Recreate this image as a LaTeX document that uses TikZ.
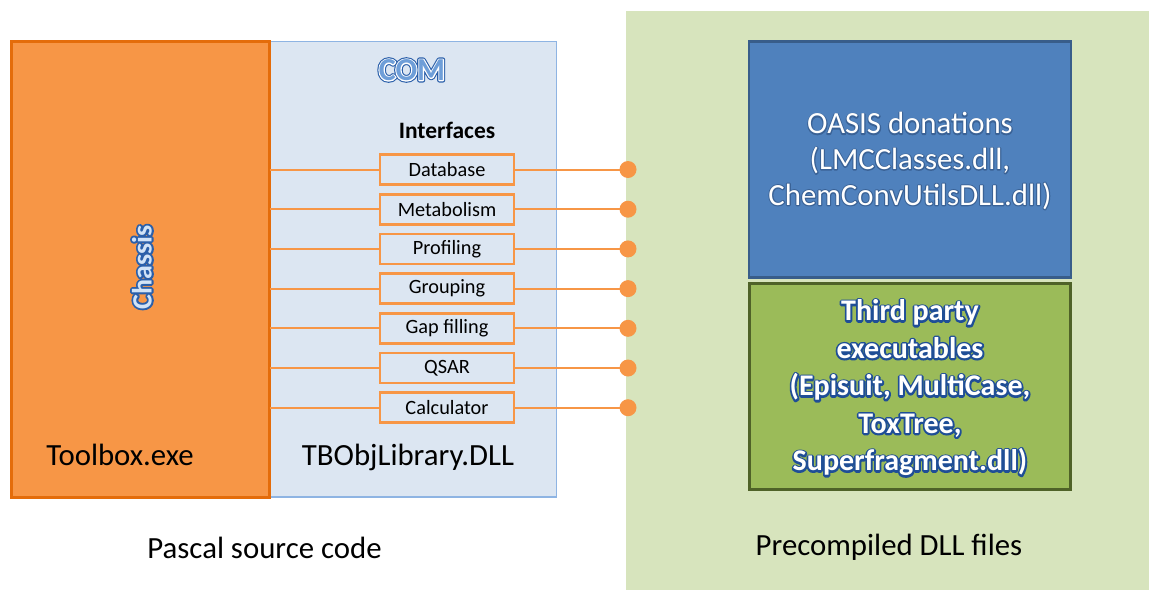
\documentclass[tikz,border=0pt]{standalone}
\usepackage{fontspec}
\setmainfont{Carlito}
\definecolor{orfill}{HTML}{F79646}
\definecolor{ordark}{HTML}{E46C0A}
\definecolor{comfill}{HTML}{DCE6F2}
\definecolor{comborder}{HTML}{8EB4E3}
\definecolor{bggreen}{HTML}{D7E4BD}
\definecolor{bluefill}{HTML}{4F81BD}
\definecolor{blueborder}{HTML}{385D8A}
\definecolor{greenfill}{HTML}{9BBB59}
\definecolor{greenborder}{HTML}{4F6228}
\definecolor{artlight}{HTML}{D2E3F6}
\definecolor{artmid}{HTML}{6E9ED8}
% word-art text: an outline pass (stroked glyphs) under a filled pass
% #1 name, #2 position, #3 node style, #4 stroke colour (r g b), #5 stroke width, #6 text
\newcommand\strokepass[3]{\special{pdf:literal direct #1 RG 1 Tr #2 w 1 j}#3\special{pdf:literal direct 0 Tr}}
\newcommand\artnode[6]{%
  \node[#3] at #2 {\strokepass{#4}{#5}{#6}};
  \node[#3] (#1) at #2 {#6};
}
\tikzset{
  lbl/.style={font=\fontsize{30.8}{36}\selectfont, text=black},
  ifbox/.style={draw=orfill, line width=2.6pt, fill=comfill, minimum width=134, minimum height=30,
    font=\fontsize{20.3}{23}\selectfont, text=black},
  conn/.style={draw=orfill, line width=2pt},
  dot/.style={circle, fill=orfill, minimum size=17},
}
\begin{document}
\begin{tikzpicture}[x=1pt,y=-1pt, every node/.style={inner sep=0pt, outer sep=0pt}]
\useasboundingbox (0,0) rectangle (1149,590);
% precompiled area
\node[fill=bggreen, minimum width=523, minimum height=579] (dllarea) at (887.5,300.5) {};
% COM box
\node[fill=comfill, draw=comborder, line width=1pt, minimum width=286, minimum height=456] (combox) at (413,269) {};
\draw[comborder, line width=2.2pt] (combox.south west) -- (combox.south east);
% Toolbox box
\node[fill=orfill, draw=ordark, line width=2.6pt, minimum width=258, minimum height=456] (toolbox) at (140.5,269.5) {};
% interfaces
\foreach \nm/\txt/\yy in {db/Database/169.5, met/Metabolism/209.2, prof/Profiling/248.9,
    grp/Grouping/288.6, gap/Gap filling/328.3, qsar/QSAR/368, calc/Calculator/407.7}{
  \node[ifbox] (\nm) at (447,\yy) {\txt};
  \node[dot] (\nm dot) at (628,\yy) {};
  \draw[conn] (toolbox.east |- \nm) -- (\nm.west);
  \draw[conn] (\nm.east) -- (\nm dot.center);
}
% right boxes
\node[fill=bluefill, draw=blueborder, line width=2.6pt, minimum width=322, minimum height=236] (oasis) at (910,159.5) {};
\node[fill=greenfill, draw=greenborder, line width=3pt, minimum width=321, minimum height=206] (third) at (910,386) {};
% texts
\node[font=\fontsize{32}{36}\bfseries] at (412,70) {\strokepass{0.165 0.373 0.667}{4.4}{COM}};
\artnode{comlbl}{(412,70)}{font=\fontsize{32}{36}\bfseries, text=artmid}{1 1 1}{2.2}{COM}
\artnode{chassislbl}{(142,267)}{rotate=90, font=\fontsize{28}{32}\bfseries, text=artlight}{0.165 0.373 0.667}{3.8}{Chassis}
\node[font=\fontsize{23.5}{26}\bfseries\selectfont, anchor=base] (iflbl) at (447,138) {Interfaces};
\node[lbl, anchor=base] (toolboxlbl) at (120,465) {Toolbox.exe};
\node[lbl, anchor=base] (tbolbl) at (408,465) {TBObjLibrary.DLL};
\node[lbl, anchor=base] (pascallbl) at (264.5,558) {Pascal source code};
\node[lbl, anchor=base] (precomplbl) at (889,555) {Precompiled DLL files};
\artnode{oasislbl}{(910,161)}{align=center, font=\fontsize{30.8}{35.6}\selectfont, text=white}{0.227 0.384 0.588}{2.2}{OASIS donations\\(LMCClasses.dll,\\ChemConvUtilsDLL.dll)}
\artnode{thirdlbl}{(910,388)}{align=center, font=\fontsize{30}{37.5}\bfseries, text=white}{0.122 0.306 0.588}{3.6}{Third party\\executables\\(Episuit, MultiCase,\\ToxTree,\\Superfragment.dll)}
\end{tikzpicture}
\end{document}
